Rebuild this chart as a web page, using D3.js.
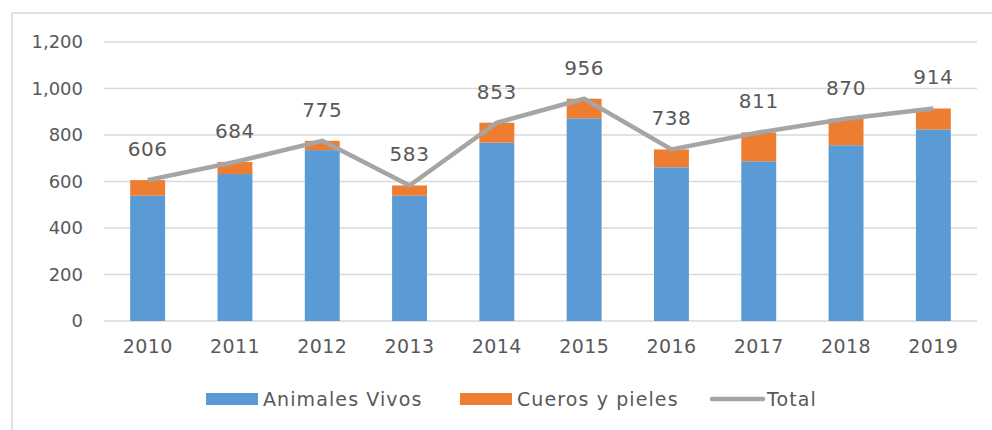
<!DOCTYPE html>
<html>
<head>
<meta charset="utf-8">
<script src="https://cdn.jsdelivr.net/npm/d3@7"></script>
<style>
  body { margin: 0; background: #fff; }
  text { font-family: "DejaVu Sans", sans-serif; fill: #595959; }
</style>
</head>
<body>
<div id="chart"></div>
<script>
var years = ["2010","2011","2012","2013","2014","2015","2016","2017","2018","2019"];
var animalesVivos = [539, 632, 735, 539, 767, 872, 661, 687, 756, 824];
var cuerosPieles = [67, 52, 40, 44, 86, 84, 77, 124, 114, 90];
var totals = [606, 684, 775, 583, 853, 956, 738, 811, 870, 914];
var yTicks = [0, 200, 400, 600, 800, 1000, 1200];

var canvasWidth = 992;
var canvasHeight = 430;

var svg = d3.select("#chart")
    .append("svg")
    .attr("width", canvasWidth)
    .attr("height", canvasHeight);

// outer frame
svg.append("rect")
    .attr("x", 12).attr("y", 13)
    .attr("width", 1000).attr("height", 440)
    .attr("fill", "none")
    .attr("stroke", "#d9d9d9")
    .attr("stroke-width", 1.5);

var x = d3.scaleBand()
    .domain(years)
    .range([104, 977])
    .paddingInner(0.6)
    .paddingOuter(0.3);

var y = d3.scaleLinear()
    .domain([0, 1200])
    .range([321, 42]);

// gridlines
svg.append("g")
    .selectAll("line")
    .data(yTicks)
    .join("line")
    .attr("x1", 104).attr("x2", 977)
    .attr("y1", function(d){ return y(d); })
    .attr("y2", function(d){ return y(d); })
    .attr("stroke", "#d9d9d9")
    .attr("stroke-width", 1.5);

// y axis labels
var yAxis = svg.append("g")
    .attr("transform", "translate(92,0)")
    .call(d3.axisLeft(y).tickValues(yTicks).tickSize(0).tickPadding(9).tickFormat(d3.format(",")));
yAxis.select(".domain").remove();
yAxis.selectAll("text").style("font-size", "18px").style("font-family", "DejaVu Sans").attr("fill", "#595959");

// x axis labels
var xAxis = svg.append("g")
    .attr("transform", "translate(0,321)")
    .call(d3.axisBottom(x).tickSize(0).tickPadding(19));
xAxis.select(".domain").remove();
xAxis.selectAll("text").style("font-size", "19px").style("letter-spacing", "0.4px").style("font-family", "DejaVu Sans").attr("fill", "#595959");

// bars
var rows = years.map(function(yr, i){
    return { year: yr, av: animalesVivos[i], cp: cuerosPieles[i], total: totals[i] };
});

svg.append("g")
    .selectAll("rect")
    .data(rows)
    .join("rect")
    .attr("x", function(d){ return x(d.year); })
    .attr("width", x.bandwidth())
    .attr("y", function(d){ return y(d.av); })
    .attr("height", function(d){ return y(0) - y(d.av); })
    .attr("fill", "#5b9bd5");

svg.append("g")
    .selectAll("rect")
    .data(rows)
    .join("rect")
    .attr("x", function(d){ return x(d.year); })
    .attr("width", x.bandwidth())
    .attr("y", function(d){ return y(d.av + d.cp); })
    .attr("height", function(d){ return y(d.av) - y(d.av + d.cp); })
    .attr("fill", "#ed7d31");

// total line
var line = d3.line()
    .x(function(d){ return x(d.year) + x.bandwidth() / 2; })
    .y(function(d){ return y(d.total); });

svg.append("path")
    .datum(rows)
    .attr("d", line)
    .attr("fill", "none")
    .attr("stroke", "#a5a5a5")
    .attr("stroke-width", 4.5)
    .attr("stroke-linejoin", "round");

// total labels
svg.append("g")
    .selectAll("text")
    .data(rows)
    .join("text")
    .attr("x", function(d){ return x(d.year) + x.bandwidth() / 2; })
    .attr("y", function(d){ return y(d.total) - 24; })
    .attr("text-anchor", "middle")
    .style("font-size", "20px")
    .style("letter-spacing", "0.6px")
    .text(function(d){ return d.total; });

// legend
var legendItems = [
    { name: "Animales Vivos", color: "#5b9bd5", type: "rect", x: 206 },
    { name: "Cueros y pieles", color: "#ed7d31", type: "rect", x: 460 },
    { name: "Total", color: "#a5a5a5", type: "line", x: 710 }
];

var legend = svg.append("g");
legendItems.forEach(function(it){
    if (it.type === "rect") {
        legend.append("rect")
            .attr("x", it.x).attr("y", 393)
            .attr("width", 52).attr("height", 12)
            .attr("fill", it.color);
    } else {
        legend.append("line")
            .attr("x1", it.x + 2).attr("x2", it.x + 53)
            .attr("y1", 399).attr("y2", 399)
            .attr("stroke", it.color)
            .attr("stroke-width", 4.5)
            .attr("stroke-linecap", "round");
    }
    legend.append("text")
        .attr("x", it.x + 57)
        .attr("y", 406)
        .style("font-size", "19px")
        .style("letter-spacing", "1.1px")
        .text(it.name);
});
</script>
</body>
</html>
